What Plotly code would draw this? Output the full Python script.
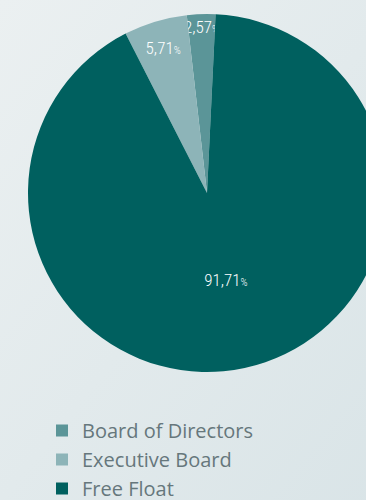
import plotly.graph_objects as go
import base64

labels = ["Board of Directors", "Executive Board", "Free Float"]
values = [2.57, 5.71, 91.71]
colors = ["#5b9598", "#8db4b8", "#00605f"]

W, H = 400, 500

svg = ('<svg xmlns="http://www.w3.org/2000/svg" width="400" height="500">'
       '<defs><linearGradient id="g" x1="0" y1="0" x2="1" y2="1">'
       '<stop offset="0" stop-color="#ebf0f1"/><stop offset="1" stop-color="#d9e4e7"/>'
       '</linearGradient></defs><rect width="400" height="500" fill="url(#g)"/></svg>')
bg = "data:image/svg+xml;base64," + base64.b64encode(svg.encode()).decode()

fig = go.Figure(go.Pie(
    labels=labels,
    values=values,
    sort=False,
    direction="counterclockwise",
    rotation=-6.5,
    marker=dict(colors=colors, line=dict(width=0)),
    texttemplate="%{value:.2f}<span style='font-size:11px'>%</span>",
    textposition="inside",
    insidetextorientation="horizontal",
    textfont=dict(family="Roboto Condensed, Liberation Sans Narrow, Roboto", size=17, color="white", weight=300),
    hoverinfo="none",
    domain=dict(x=[28 / W, 386 / W], y=[1 - 372 / H, 1 - 14 / H]),
))

fig.update_layout(
    width=W, height=H,
    margin=dict(l=0, r=0, t=0, b=0, autoexpand=False),
    paper_bgcolor="#e3eaec",
    separators=",.",
    uniformtext=dict(minsize=17, mode="show"),
    images=[dict(source=bg, xref="paper", yref="paper", x=0, y=1, sizex=1, sizey=1,
                 sizing="stretch", layer="below", xanchor="left", yanchor="top")],
    legend=dict(
        x=42 / W, y=1 - 411 / H, xanchor="left", yanchor="top",
        font=dict(family="Open Sans, Lato", size=20, color="#66777c", weight=400),
        bgcolor="rgba(0,0,0,0)", itemsizing="constant",
    ),
    showlegend=True,
)

fig.write_html("out.html", post_script="document.body.style.margin='0';document.body.style.overflow='hidden';")
